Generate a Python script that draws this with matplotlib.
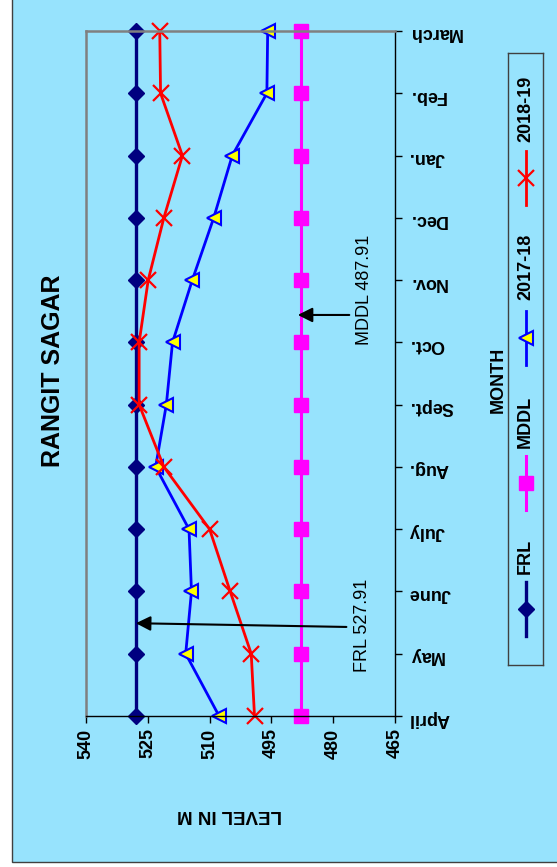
import matplotlib
matplotlib.use('Agg')
import matplotlib.pyplot as plt
from matplotlib.patches import Rectangle

# 字型：Arial 等寬的 Liberation Sans
plt.rcParams['font.family'] = ['Liberation Sans', 'DejaVu Sans']

# 資料
months = ['April', 'May', 'June', 'July', 'Aug.', 'Sept.', 'Oct.', 'Nov.', 'Dec.', 'Jan.', 'Feb.', 'March']
frl = [527.91] * 12
mddl = [487.91] * 12
lvl_2017_18 = [507.7, 515.8, 514.4, 515.0, 523.1, 520.5, 519.0, 514.2, 509.0, 504.5, 496.1, 495.9]
lvl_2018_19 = [499.1, 499.9, 505.0, 510.0, 521.1, 527.1, 527.1, 524.9, 521.1, 516.6, 521.9, 522.1]
level_ticks = [540, 525, 510, 495, 480, 465]

W, H = 557, 867
BG = '#97E3FD'


def fx(px):
    return px / W


def fy(py):
    return 1 - py / H


fig = plt.figure(figsize=(W / 100, H / 100), dpi=100)
fig.patch.set_facecolor('white')
fig.add_artist(Rectangle((fx(12), fy(862)), 1.0, 1.0, transform=fig.transFigure,
                         facecolor=BG, edgecolor='#404040', lw=1, zorder=-10))

# 主圖（整張圖旋轉 90 度的排版）
ax = fig.add_axes([fx(86), fy(716), fx(395) - fx(86), fy(31) - fy(716)])
ax.set_facecolor('none')
pos = list(range(len(months)))

styles = {
    'FRL': dict(color='#000080', lw=2.4, marker='D', ms=8, mfc='#000080', mec='#000080'),
    'MDDL': dict(color='#FF00FF', lw=2.2, marker='s', ms=10.5, mfc='#FF00FF', mec='#FF00FF'),
    '2017-18': dict(color='#0000FF', lw=2.0, marker='<', ms=10, mfc='#FFFF00', mec='#0000FF', mew=1.5),
    '2018-19': dict(color='#FF0000', lw=2.0, marker='x', ms=11, mec='#FF0000', mew=1.6),
}
series = {'FRL': frl, 'MDDL': mddl, '2017-18': lvl_2017_18, '2018-19': lvl_2018_19}
for name, vals in series.items():
    ax.plot(vals, pos, clip_on=False, **styles[name])

ax.set_xlim(540, 465)
ax.set_ylim(0, 11)
ax.set_xticks(level_ticks)
ax.set_xticklabels([str(v) for v in level_ticks], rotation=90, fontsize=13, fontweight='bold')
ax.yaxis.tick_right()
ax.set_yticks(pos)
ax.set_yticklabels(months, rotation=180, fontsize=13, fontweight='bold')
ax.tick_params(axis='both', direction='out', length=5, width=1, pad=4)
ax.tick_params(axis='y', pad=5)

for s in ['top', 'left']:
    ax.spines[s].set_color('#808080')
    ax.spines[s].set_linewidth(1.8)
for s in ['right', 'bottom']:
    ax.spines[s].set_color('black')
    ax.spines[s].set_linewidth(1)

# 標註 FRL / MDDL
arrow = dict(arrowstyle='-|>', color='black', lw=1.5, mutation_scale=22, shrinkA=0, shrinkB=0)
ax.annotate('', xy=(527.9, 1.49), xytext=(476.8, 1.43), arrowprops=arrow)
ax.text(473.0, 1.46, 'FRL 527.91', rotation=90, fontsize=13, ha='center', va='center')
ax.annotate('', xy=(488.6, 6.44), xytext=(476.1, 6.44), arrowprops=arrow)
ax.text(472.5, 6.84, 'MDDL 487.91', rotation=90, fontsize=13, ha='center', va='center')

# 標題與軸名稱
fig.text(fx(53), fy(371), 'RANGIT SAGAR', rotation=90, fontsize=18, fontweight='bold',
         ha='center', va='center')
fig.text(fx(498), fy(380), 'MONTH', rotation=90, fontsize=13, fontweight='bold',
         ha='center', va='center')
fig.text(fx(230), fy(815), 'LEVEL IN M', rotation=180, fontsize=13.5, fontweight='bold',
         ha='center', va='center')

# 旋轉的圖例（自己畫）
lax = fig.add_axes([fx(508), fy(665), fx(543) - fx(508), fy(53) - fy(665)])
lax.set_facecolor('none')
lax.set_xlim(0, 1)
lax.set_ylim(665, 53)
lax.set_xticks([])
lax.set_yticks([])
for s in lax.spines.values():
    s.set_color('#404040')
    s.set_linewidth(1)
legend_pos = {'FRL': (609, 556), 'MDDL': (483, 422), '2017-18': (338, 267), '2018-19': (178, 109)}
for name, (my, ty) in legend_pos.items():
    lax.plot([0.5, 0.5, 0.5], [my + 27, my, my - 27], markevery=[1], **styles[name])
    lax.text(0.5, ty, name, rotation=90, fontsize=13, fontweight='bold', ha='center', va='center')

fig.savefig('out.png', dpi=100)
